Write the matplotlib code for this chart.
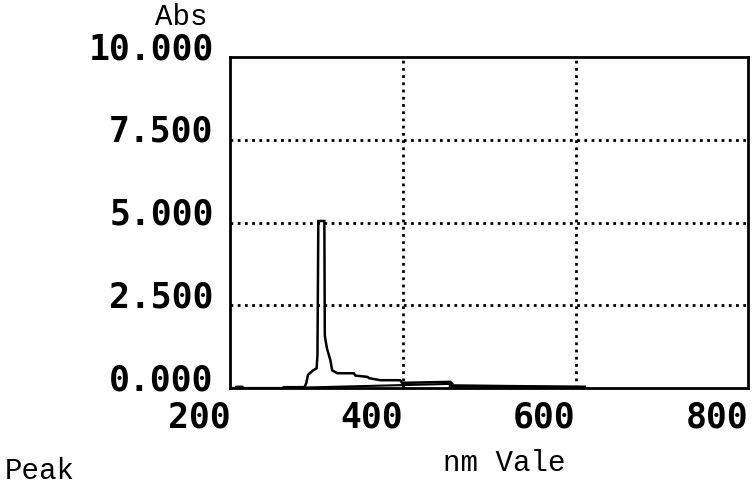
import matplotlib.pyplot as plt
import matplotlib.transforms as mtransforms

# scan trace (wavelength nm, absorbance)
scan_nm = [200, 206, 207, 214, 215, 260, 262, 286, 288, 290, 292, 296, 300, 301,
           302, 303, 309, 309.5, 310, 312, 316, 318, 324, 343, 345, 359, 361, 374,
           397, 399, 455, 457]
scan_abs = [0.00, 0.00, 0.04, 0.04, 0.00, 0.00, 0.03, 0.03, 0.15, 0.40, 0.45, 0.54,
            0.60, 1.00, 5.05, 5.05, 5.05, 1.60, 1.50, 1.20, 0.84, 0.54, 0.45, 0.45,
            0.38, 0.34, 0.30, 0.24, 0.24, 0.16, 0.19, 0.13]
# return stroke of the pen and the flat tail near zero
back_nm = [457, 288]
back_abs = [0.13, 0.02]
tail_nm = [455, 520, 610]
tail_abs = [0.07, 0.05, 0.03]

x_ticks = [200, 400, 600, 800]
y_ticks = [0.0, 2.5, 5.0, 7.5, 10.0]
y_labels = ['0.000', '2.500', '5.000', '7.500', '10.000']

fig = plt.figure(figsize=(7.55, 4.97), dpi=100, facecolor='white')
ax = fig.add_axes([0.305, 0.219, 0.686, 0.666])
ax.set_facecolor('white')

ax.plot(scan_nm, scan_abs, color='black', linewidth=1.8, solid_joinstyle='miter')
ax.plot(back_nm, back_abs, color='black', linewidth=1.5)
ax.plot(tail_nm, tail_abs, color='black', linewidth=2.4)

ax.set_xlim(200, 800)
ax.set_ylim(0, 10)
ax.set_xticks(x_ticks)
ax.set_yticks(y_ticks)
ax.set_xticklabels([str(t) for t in x_ticks], ha='right')
ax.set_yticklabels(y_labels, va='baseline')
ax.tick_params(length=0, labelsize=25)
ax.tick_params(axis='x', pad=9)
ax.tick_params(axis='y', pad=12)
shift_down = mtransforms.ScaledTranslation(0, -0.02, fig.dpi_scale_trans)
for lab in ax.get_yticklabels():
    lab.set_transform(lab.get_transform() + shift_down)
for lab in ax.get_xticklabels() + ax.get_yticklabels():
    lab.set_family('DejaVu Sans Mono')
    lab.set_fontweight('bold')

# dotted grid only inside the frame
for v in [400, 600]:
    ax.axvline(v, color='black', linestyle=(0, (1, 1.6)), linewidth=2.0)
for v in [2.5, 5.0, 7.5]:
    ax.axhline(v, color='black', linestyle=(0, (1, 1.6)), linewidth=2.0)

for spine in ax.spines.values():
    spine.set_color('black')
    spine.set_linewidth(2.0)

fig.text(0.240, 0.965, 'Abs', family='Liberation Mono', fontsize=21, ha='center', va='center')
fig.text(0.668, 0.068, 'nm Vale', family='Liberation Mono', fontsize=21, ha='center', va='center')
fig.text(0.006, 0.052, 'Peak', family='Liberation Mono', fontsize=21, ha='left', va='center')

fig.savefig('out.png', dpi=100, facecolor='white')
